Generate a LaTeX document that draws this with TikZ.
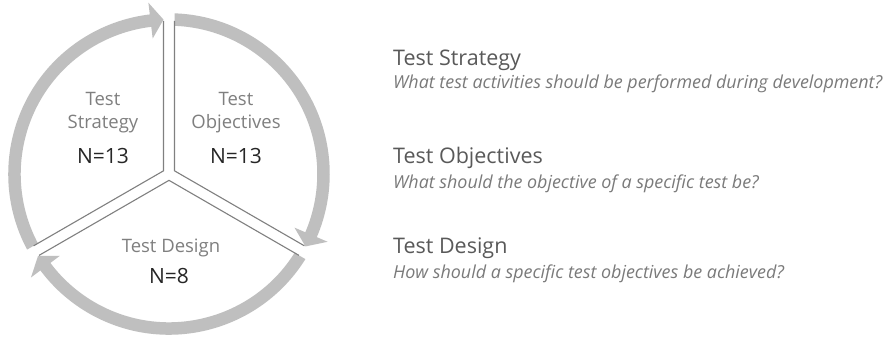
\documentclass[tikz,border=0pt]{standalone}
\usepackage{fontspec}
\setmainfont{Open Sans}
\usetikzlibrary{calc}
\definecolor{ringcol}{HTML}{BFBFBF}
\definecolor{edgecol}{HTML}{808080}
\definecolor{labcol}{HTML}{7F7F7F}
\definecolor{numcol}{HTML}{262626}
\definecolor{headcol}{HTML}{595959}
\definecolor{subcol}{HTML}{7A7A7A}
\def\gap{5.5}
\def\rmid{154.5}
\def\rwid{12.5}
\def\hlen{13}
\def\hw{18}
% one slice of the cycle: white wedge between angles #1 and #2 (ccw),
% with its clockwise arrow along the rim ending at angle #1
\newcommand{\ringsector}[2]{%
  \pgfmathsetmacro{\ma}{(#1+#2)/2}%
  \pgfmathsetmacro{\dap}{\gap/sin(60)}%
  \pgfmathsetmacro{\tipang}{#1+asin(\gap/\rmid)}%
  \pgfmathsetmacro{\baseang}{\tipang+\hlen/\rmid*180/pi}%
  \coordinate (A) at ($(C)+(\ma:\dap)$);
  \begin{scope}
    \clip (A) -- ++(#1:300) -- ($(A)+(\ma:400)$) -- ($(A)+(#2:300)$) -- cycle;
    \draw[ring] ($(C)+(#2+3:\rmid)$) arc[start angle=#2+3, end angle=\baseang-0.3, radius=\rmid];
    \fill[ringcol] ($(C)+(\baseang:\rmid-\hw)$) -- ($(C)+(\tipang:\rmid)$) -- ($(C)+(\baseang:\rmid+\hw)$) -- cycle;
  \end{scope}
  \draw[edge] ($(A)+(#1:150)$) -- (A) -- ($(A)+(#2:150)$);
}
\begin{document}
\begin{tikzpicture}[x=1pt,y=1pt,
  ring/.style={draw=ringcol, line width=\rwid pt},
  edge/.style={draw=edgecol, line width=1.1pt, line join=miter},
  lab/.style={anchor=base, text=labcol, font=\fontsize{18.5}{22}\selectfont, inner sep=0pt},
  num/.style={anchor=base, text=numcol, font=\fontsize{21}{25}\selectfont, inner sep=0pt},
  head/.style={anchor=base west, text=headcol, font=\fontsize{21.5}{26}\selectfont, inner sep=0pt},
  sub/.style={anchor=base west, text=subcol, font=\fontsize{17.9}{21}\selectfont\itshape, inner sep=0pt}]
\useasboundingbox (0,0) rectangle (889,338);
\fill[white] (0,0) rectangle (889,338);
\coordinate (C) at (169,164);

\ringsector{90}{210}
\ringsector{-30}{90}
\ringsector{210}{330}

% labels inside the wedges
\node[lab] (strat1) at (103,233) {Test};
\node[lab] (strat2) at (103,210) {Strategy};
\node[num] (stratn) at (103,175) {N=13};
\node[lab] (obj1) at (236,233) {Test};
\node[lab] (obj2) at (236,210) {Objectives};
\node[num] (objn) at (236,175) {N=13};
\node[lab] (des1) at (171,86) {Test Design};
\node[num] (desn) at (169,55) {N=8};

% legend
\node[head] (h1) at (393,272) {Test Strategy};
\node[sub]  (s1) at (393,249) {What test activities should be performed during development?};
\node[head] (h2) at (393,175) {Test Objectives};
\node[sub]  (s2) at (393,150) {What should the objective of a specific test be?};
\node[head] (h3) at (393,85) {Test Design};
\node[sub]  (s3) at (393,60) {How should a specific test objectives be achieved?};
\end{tikzpicture}
\end{document}
